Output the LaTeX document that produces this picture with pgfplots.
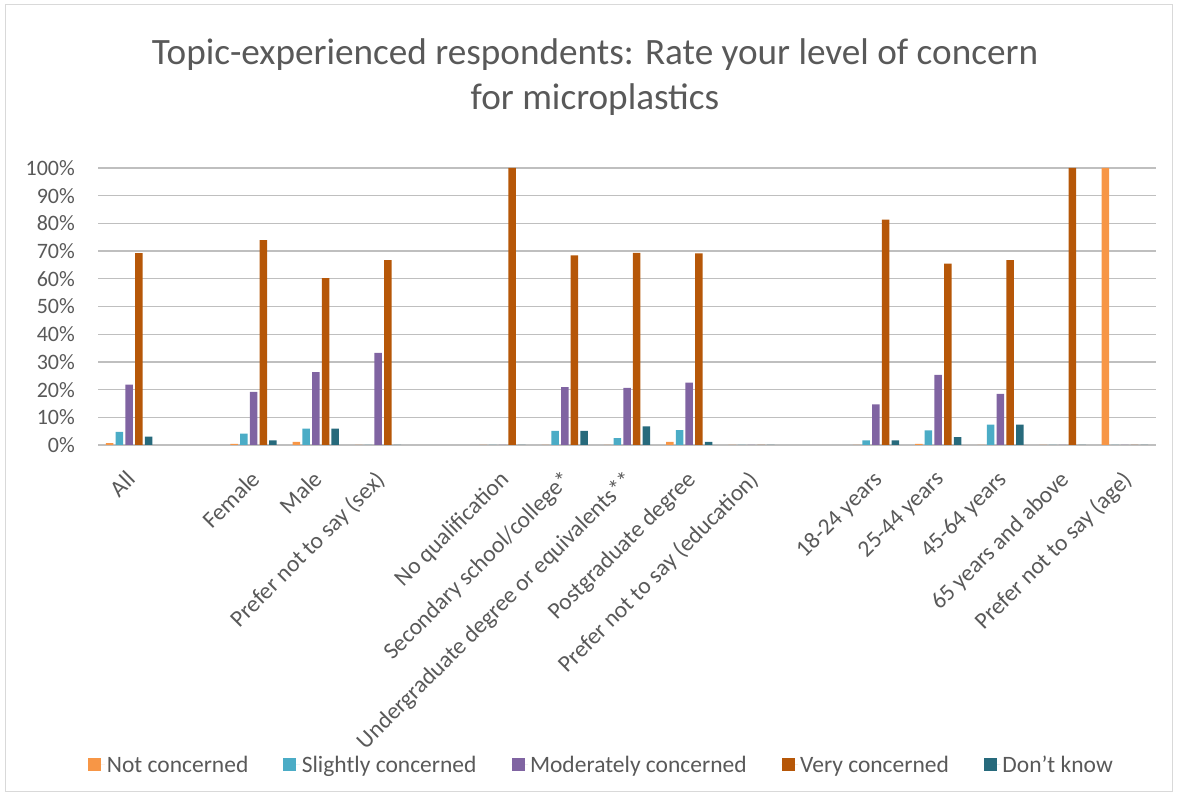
\documentclass[border=0pt]{standalone}
\usepackage{pgfplots}
\usepackage{pgfplotstable}
\pgfplotsset{compat=1.18}
\usepackage{fontspec}
\setmainfont{Carlito}
\definecolor{txt}{HTML}{595959}
\definecolor{grid}{HTML}{D9D9D9}
\definecolor{cNot}{HTML}{F79646}
\definecolor{cSl}{HTML}{4BACC6}
\definecolor{cMod}{HTML}{8064A2}
\definecolor{cVery}{HTML}{B65708}
\definecolor{cDk}{HTML}{276A7C}
\pgfplotstableread{
x nc sc mc vc dk
0 0.7 4.7 21.8 69.3 3.0
2 0.4 4.1 19.2 74.0 1.7
3 1.1 5.9 26.3 60.2 5.9
4 0 0 33.3 66.7 0
6 0 0 0 100 0
7 0 5.1 20.9 68.5 5.1
8 0 2.5 20.6 69.4 6.7
9 1.1 5.4 22.5 69.2 1.1
10 0 0 0 0 0
12 0 1.7 14.7 81.4 1.7
13 0.4 5.3 25.3 65.5 2.8
14 0 7.4 18.5 66.7 7.4
15 0 0 0 100 0
16 100 0 0 0 0
}\datatable
\begin{document}
\begin{tikzpicture}[x=1pt,y=1pt]
\useasboundingbox (0,0) rectangle (1177,797);
\draw[grid, line width=1pt] (5,5) rectangle (1172,792);
\node[txt, align=center, font=\fontsize{37.2}{45}\selectfont] at (595,720) {Topic-experienced respondents: Rate your level of concern\\for microplastics};
\begin{axis}[
  at={(98pt,352pt)}, anchor=south west,
  scale only axis, width=1058pt, height=277pt,
  ybar=2.2pt, bar width=7.5pt,
  xmin=-0.5, xmax=16.5, ymin=0, ymax=100,
  ytick={0,10,...,100},
  yticklabel={\pgfmathprintnumber{\tick}\%},
  /pgf/number format/assume math mode=true,
  xmajorgrids=false, ymajorgrids=true,
  major grid style={grid, line width=1.3pt},
  axis line style={draw=none},
  major tick length=0pt, tick style={draw=none},
  yticklabel style={txt, font=\fontsize{22}{26}\selectfont, anchor=east, inner sep=0pt, xshift=-23pt},
  xtick={0,2,3,4,6,7,8,9,10,12,13,14,15,16},
  xticklabels={All, Female, Male, Prefer not to say (sex), No qualification, Secondary school/college*, Undergraduate degree or equivalents**, Postgraduate degree, Prefer not to say (education), 18-24 years, 25-44 years, 45-64 years, 65 years and above, Prefer not to say (age)},
  xticklabel style={txt, font=\fontsize{23.5}{26}\selectfont, rotate=45, anchor=north east, inner sep=0pt, xshift=-20pt, yshift=-14pt},
  legend style={at={(0.476,-1.155)}, anchor=center, draw=none, fill=none,
    font=\fontsize{23.5}{26}\selectfont, text=txt,
    /tikz/every even column/.append style={column sep=33pt}},
  legend columns=-1,
  legend image code/.code={\fill[#1] (-6.5pt,-6.5pt) rectangle (6.5pt,6.5pt); \path (-6.5pt,0pt) -- (10pt,0pt);},
  every axis plot/.append style={draw=none},
]
\addplot[fill=cNot] table[x=x,y=nc]{\datatable};
\addplot[fill=cSl] table[x=x,y=sc]{\datatable};
\addplot[fill=cMod] table[x=x,y=mc]{\datatable};
\addplot[fill=cVery] table[x=x,y=vc]{\datatable};
\addplot[fill=cDk] table[x=x,y=dk]{\datatable};
\legend{Not concerned, Slightly concerned, Moderately concerned, Very concerned, Don't know}
\end{axis}
\end{tikzpicture}
\end{document}
